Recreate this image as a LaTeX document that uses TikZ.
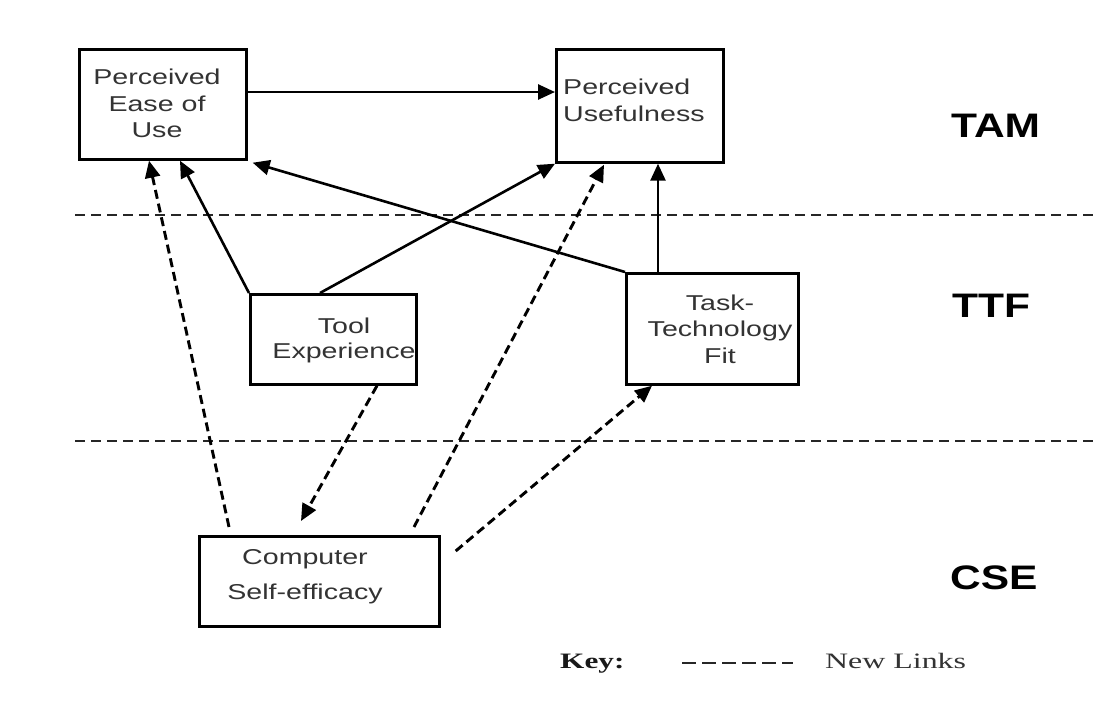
\documentclass[tikz,border=0pt]{standalone}
\usepackage{fontspec}
\setmainfont{Liberation Sans}
\newfontfamily\keyserif{Liberation Serif}
\usepackage{graphicx}
\usetikzlibrary{arrows.meta,calc}

% horizontally widened text
\newcommand\wide[2][1.33]{\scalebox{#1}[1]{#2}}

\begin{document}
\begin{tikzpicture}[x=1pt,y=-1pt,
  box/.style={draw=black,line width=2.7pt,rectangle,inner sep=0pt,anchor=north west},
  boxtext/.style={font=\fontsize{21.5}{26.5}\selectfont,text=black!80,inner sep=0pt,align=center},
  link/.style={draw=black,line width=2.6pt,-{Triangle[length=17pt,width=15pt]}},
  newlink/.style={link,line width=2.9pt,dash pattern=on 9pt off 5pt},
  divider/.style={draw=black!85,line width=2.4pt,dash pattern=on 10pt off 6pt},
  layer/.style={font=\fontsize{34}{34}\selectfont\bfseries,anchor=base west,inner sep=0pt},
  keyfont/.style={font=\keyserif\fontsize{22}{22}\selectfont,text=black!80,anchor=base west,inner sep=0pt}]

\useasboundingbox[fill=white] (0,0) rectangle (1097,702);

% layer separators
\draw[divider] (75,215) -- (1097,215);
\draw[divider] (75,441) -- (1097,441);

% construct boxes
\node[box,minimum width=167pt,minimum height=110pt] (peou) at (78,48) {};
\node[box,minimum width=167pt,minimum height=113pt] (pu)   at (555,48) {};
\node[box,minimum width=166pt,minimum height=90pt]  (te)   at (249,293) {};
\node[box,minimum width=172pt,minimum height=111pt] (ttf)  at (625,272) {};
\node[box,minimum width=240pt,minimum height=90pt]  (cse)  at (198,535) {};

% box captions
\node[boxtext] (peoutext) at (157,103.5) {\wide{Perceived}\\\wide{Ease of}\\\wide{Use}};
\node[boxtext,align=left,anchor=north west,font=\fontsize{21.5}{27}\selectfont] (putext) at (563,79) {\wide{Perceived}\\\wide{Usefulness}};
\node[boxtext,font=\fontsize{21.5}{25}\selectfont] (tetext) at (344,340) {\wide{Tool}\\\wide{Experience}};
\node[boxtext] (ttftext) at (720,329) {\wide{Task-}\\\wide{Technology}\\\wide{Fit}};
\node[boxtext,font=\fontsize{21.5}{35}\selectfont] (csetext) at (305,577) {\wide{Computer}\\\wide{Self-efficacy}};

% layer names
\node[layer] (tam)    at (951,137) {\wide[1.25]{TAM}};
\node[layer] (ttfl)   at (952,317) {\wide[1.25]{TTF}};
\node[layer] (csel)   at (950,589) {\wide[1.25]{CSE}};

% original links
\draw[link] ($(peou.north east)+(0,44)$) -- ($(pu.north west)+(0,44)$);
\draw[link] (te.north west) -- ($(peou.south west)+(102,0)$);
\draw[link] ($(te.north west)+(71,0)$) -- (pu.south west);
\draw[link] (ttf.north west) -- ($(peou.south east)+(5,2)$);
\draw[link] ($(ttf.north west)+(33,0)$) -- ($(pu.south west)+(103,0)$);

% new links
\draw[newlink] ($(cse.north west)+(31,-8)$) -- ($(peou.south west)+(71,0)$);
\draw[newlink] ($(cse.north west)+(216,-8)$) -- ($(pu.south west)+(49,1)$);
\draw[newlink] ($(te.south west)+(128,0)$) -- ($(cse.north west)+(103,-14)$);
\draw[newlink] ($(cse.north east)+(15,16)$) -- ($(ttf.south west)+(27,0)$);

% key
\node[keyfont,font=\keyserif\bfseries\fontsize{22}{22}\selectfont,text=black!90] (keylabel) at (560,668) {\wide[1.42]{Key:}};
\draw[draw=black!85,line width=2.6pt,dash pattern=on 14pt off 6pt] (682,663) -- (793,663);
\node[keyfont] (keytext) at (825,668) {\wide[1.45]{New Links}};

\end{tikzpicture}
\end{document}
